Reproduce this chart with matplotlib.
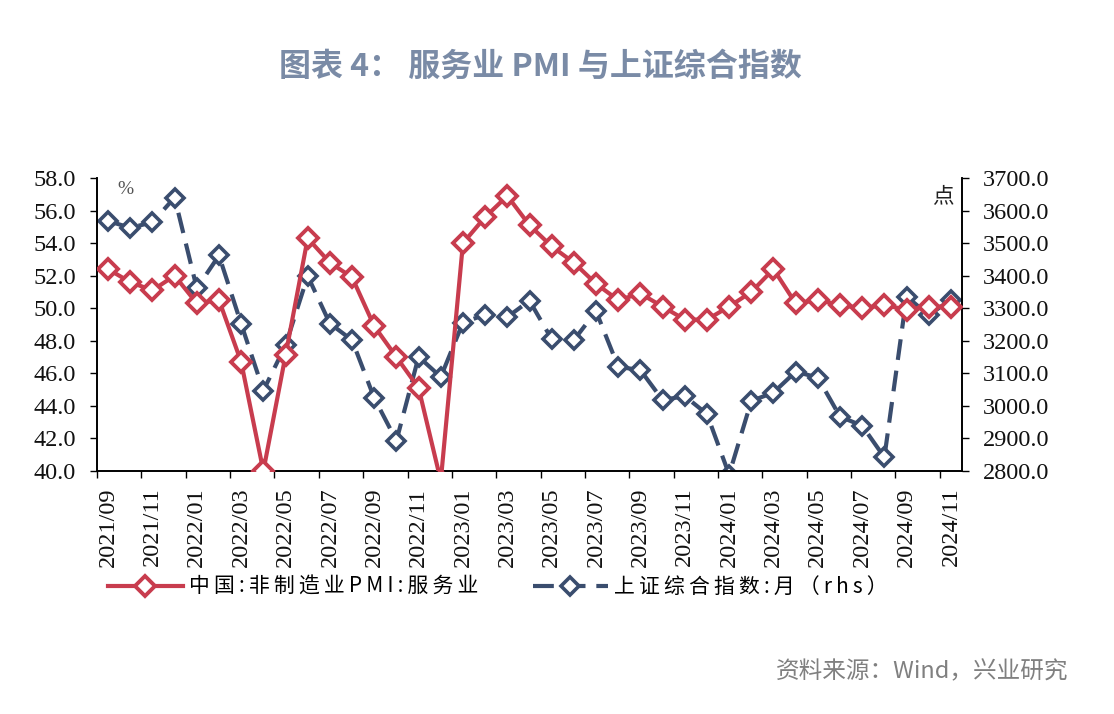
import matplotlib
matplotlib.use("Agg")
import matplotlib.pyplot as plt
from matplotlib.ticker import FixedLocator
from matplotlib.lines import Line2D

months = ["2021/09", "2021/10", "2021/11", "2021/12",
          "2022/01", "2022/02", "2022/03", "2022/04", "2022/05", "2022/06",
          "2022/07", "2022/08", "2022/09", "2022/10", "2022/11", "2022/12",
          "2023/01", "2023/02", "2023/03", "2023/04", "2023/05", "2023/06",
          "2023/07", "2023/08", "2023/09", "2023/10", "2023/11", "2023/12",
          "2024/01", "2024/02", "2024/03", "2024/04", "2024/05", "2024/06",
          "2024/07", "2024/08", "2024/09", "2024/10", "2024/11"]
pmi_services = [52.4, 51.6, 51.1, 52.0,
                50.3, 50.5, 46.7, 40.0, 47.1, 54.3,
                52.8, 51.9, 48.9, 47.0, 45.1, 39.4,
                54.0, 55.6, 56.9, 55.1, 53.8, 52.8,
                51.5, 50.5, 50.9, 50.1, 49.3, 49.3,
                50.1, 51.0, 52.4, 50.3, 50.5, 50.2,
                50.0, 50.2, 49.9, 50.1, 50.1]
sse_index = [3568, 3547, 3564, 3640,
             3361, 3462, 3252, 3047, 3186, 3399,
             3253, 3202, 3024, 2893, 3151, 3089,
             3256, 3280, 3273, 3323, 3205, 3202,
             3291, 3120, 3110, 3018, 3030, 2975,
             2789, 3015, 3041, 3105, 3087, 2967,
             2939, 2842, 3336, 3279, 3326]

name_pmi = "中国:非制造业PMI:服务业"
name_sse = "上证综合指数:月（rhs）"
title = "图表 4： 服务业 PMI 与上证综合指数"
source = "资料来源：Wind，兴业研究"

RED = "#C83C4E"
NAVY = "#3A4D6E"
serif = "Liberation Serif"
cjk = ["Noto Sans CJK SC", "DejaVu Sans"]


def spaced(s):
    return "\u2009".join(s)


fig = plt.figure(figsize=(11.14, 7.14), dpi=100)
ax = fig.add_axes([97/1114, 1-471/714, (962-97)/1114, (471-178)/714])
ax2 = ax.twinx()

x = list(range(len(months)))
ax2.plot(x, sse_index, color=NAVY, lw=3, dashes=(5, 2.6), marker="D",
         ms=9, mfc="white", mec=NAVY, mew=2.6, zorder=2)
ax.plot(x, pmi_services, color=RED, lw=3, marker="D",
        ms=10, mfc="white", mec=RED, mew=2.8, zorder=3)
ax.set_zorder(ax2.get_zorder() + 1)
ax.patch.set_visible(False)

ax.set_xlim(-0.5, len(months) - 0.5)
ax.set_ylim(40, 58)
ax2.set_ylim(2800, 3700)
ax.set_yticks([40 + 2*i for i in range(10)])
ax.set_yticklabels([f"{40 + 2*i:.1f}" for i in range(10)])
ax2.set_yticks([2800 + 100*i for i in range(10)])
ax2.set_yticklabels([f"{2800 + 100*i:.1f}" for i in range(10)])

ax.xaxis.set_major_locator(FixedLocator(x[::2]))
ax.set_xticklabels(months[::2], rotation=90)
ax.xaxis.set_minor_locator(FixedLocator([-0.5 + 2*i for i in range(20)]))
ax.tick_params(axis="x", which="major", length=0, pad=12)
ax.tick_params(axis="x", which="minor", length=5, width=1, direction="out")
ax.tick_params(axis="y", length=5, width=1, direction="out", pad=10)
ax2.tick_params(axis="y", length=5, width=1, direction="out", pad=10)

for a in (ax, ax2):
    for lab in a.get_xticklabels() + a.get_yticklabels():
        lab.set_fontfamily(serif)
        lab.set_fontsize(17.5)
        lab.set_color("#111111")
    a.spines["top"].set_visible(False)
    for s in ("left", "right", "bottom"):
        a.spines[s].set_linewidth(1.2)

ax.text(0.023, 0.99, "%", transform=ax.transAxes, fontsize=14, family=serif,
        color="#555555", va="top", ha="left")
ax2.text(0.99, 0.975, "点", transform=ax.transAxes, fontsize=15.5, family=cjk,
         color="#222222", va="top", ha="right")

fig.text(540/1114, 1-67/714, title, family=cjk, fontsize=23, fontweight="bold",
         color="#7A8BA6", ha="center", va="center")
fig.text(1068/1114, 1-672/714, source, family=cjk, fontsize=17,
         color="#808080", ha="right", va="center")

h1 = Line2D([], [], color=RED, lw=3, marker="D", ms=10, mfc="white", mec=RED, mew=2.8)
h2 = Line2D([], [], color=NAVY, lw=3, dashes=(5, 2.6), marker="D", ms=9,
            mfc="white", mec=NAVY, mew=2.6)
fig.legend([h1, h2], [spaced(name_pmi), spaced(name_sse)], loc="center left",
           bbox_to_anchor=(89/1114, 1-587/714), ncol=2, frameon=False,
           prop={"family": cjk, "size": 15}, handlelength=3.6,
           columnspacing=2.6, handletextpad=0.3)

fig.savefig("out.png", dpi=100, facecolor="white")
